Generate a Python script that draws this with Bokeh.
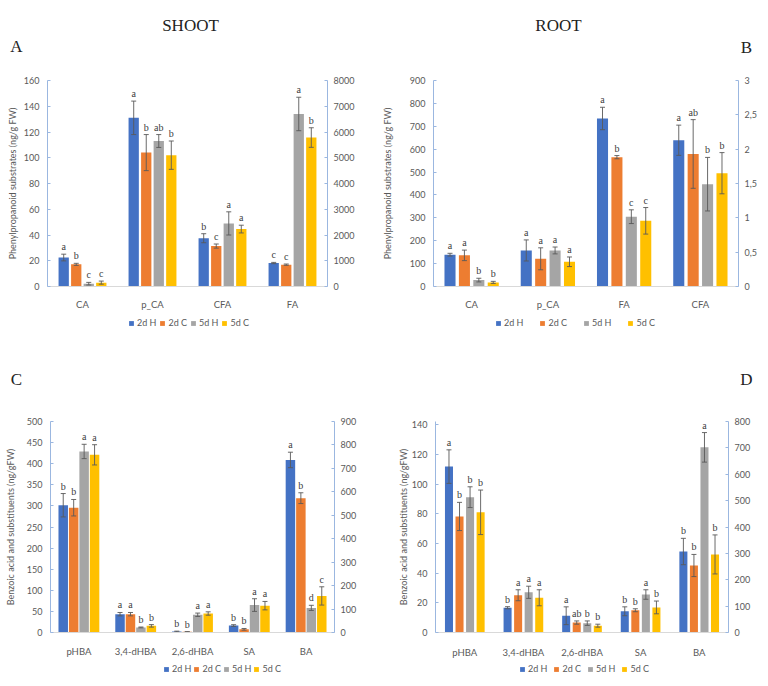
from bokeh.plotting import figure
from bokeh.models import (ColumnDataSource, Range1d, FactorRange, LinearAxis, FixedTicker,
                          LabelSet, Legend, LegendItem, CustomJSTickFormatter)
from bokeh.transform import dodge
from bokeh.layouts import row, column
from bokeh.embed import file_html
from bokeh.resources import INLINE
from bokeh.core.properties import value

SERIES = ["2d H", "2d C", "5d H", "5d C"]
COLORS = ["#4472C4", "#ED7D31", "#A5A5A5", "#FFC000"]

# ---------------- Panel A : SHOOT, phenylpropanoid substrates (FA on secondary axis) -------------
A_CATS = ["CA", "p_CA", "CFA", "FA"]
A_SECONDARY = ["FA"]
A_2dH = [22.5, 131, 37.5, 911]
A_2dC = [17.2, 104, 31.4, 848]
A_5dH = [2.2, 113, 49, 6700]
A_5dC = [3.0, 102, 44.6, 5785]
A_2dH_ERR = [2.6, 13, 3.5, 25]
A_2dC_ERR = [0.8, 14, 1.6, 25]
A_5dH_ERR = [1.0, 5, 9, 650]
A_5dC_ERR = [1.2, 11, 3, 380]
A_2dH_SIG = ["a", "a", "b", "c"]
A_2dC_SIG = ["b", "b", "c", "c"]
A_5dH_SIG = ["c", "ab", "a", "a"]
A_5dC_SIG = ["c", "b", "a", "b"]
A_LEFT_TICKS = [0, 20, 40, 60, 80, 100, 120, 140, 160]
A_RIGHT_TICKS = [0, 1000, 2000, 3000, 4000, 5000, 6000, 7000, 8000]

# ---------------- Panel B : ROOT, phenylpropanoid substrates (CFA on secondary axis) --------------
B_CATS = ["CA", "p_CA", "FA", "CFA"]
B_SECONDARY = ["CFA"]
B_2dH = [139, 157.5, 734, 2.13]
B_2dC = [136, 121, 565, 1.93]
B_5dH = [28, 157.5, 305, 1.49]
B_5dC = [18, 108, 287, 1.65]
B_2dH_ERR = [6, 46, 49, 0.22]
B_2dC_ERR = [23, 48, 7, 0.5]
B_5dH_ERR = [8, 15, 30, 0.39]
B_5dC_ERR = [4.5, 21, 58, 0.3]
B_2dH_SIG = ["a", "a", "a", "a"]
B_2dC_SIG = ["a", "a", "b", "ab"]
B_5dH_SIG = ["b", "a", "c", "b"]
B_5dC_SIG = ["b", "a", "c", "b"]
B_LEFT_TICKS = [0, 100, 200, 300, 400, 500, 600, 700, 800, 900]
B_RIGHT_TICKS = [0, 0.5, 1, 1.5, 2, 2.5, 3]

# ---------------- Panel C : SHOOT, benzoic acid and substituents (BA on secondary axis) ----------
C_CATS = ["pHBA", "3,4-dHBA", "2,6-dHBA", "SA", "BA"]
C_SECONDARY = ["BA"]
C_2dH = [301.6, 43.4, 2.2, 16.5, 736]
C_2dC = [295.7, 43.4, 1.5, 7.5, 573]
C_5dH = [429, 12, 42, 65, 105]
C_5dC = [421, 15.7, 45, 63.6, 156]
C_2dH_ERR = [27.7, 4, 1, 2, 33]
C_2dC_ERR = [19.5, 4, 0.5, 2, 23]
C_5dH_ERR = [17, 1, 4, 15, 11]
C_5dC_ERR = [24, 3, 4, 10, 39]
C_2dH_SIG = ["b", "a", "b", "b", "a"]
C_2dC_SIG = ["b", "a", "b", "b", "b"]
C_5dH_SIG = ["a", "b", "a", "a", "d"]
C_5dC_SIG = ["a", "b", "a", "a", "c"]
C_LEFT_TICKS = [0, 50, 100, 150, 200, 250, 300, 350, 400, 450, 500]
C_RIGHT_TICKS = [0, 100, 200, 300, 400, 500, 600, 700, 800, 900]

# ---------------- Panel D : ROOT, benzoic acid and substituents (BA on secondary axis) -----------
D_CATS = ["pHBA", "3,4-dHBA", "2,6-dHBA", "SA", "BA"]
D_SECONDARY = ["BA"]
D_2dH = [111.8, 16.7, 11.3, 14.3, 307]
D_2dC = [78.2, 25.1, 6.7, 15, 254]
D_5dH = [91.2, 27.1, 6.3, 25.6, 702]
D_5dC = [81, 23.4, 4.6, 16.9, 296]
D_2dH_ERR = [11.3, 0.7, 6, 3, 50]
D_2dC_ERR = [9.5, 3.7, 1.1, 1, 42]
D_5dH_ERR = [7, 4.1, 1.5, 3.2, 56]
D_5dC_ERR = [15, 5.4, 1, 4.3, 74]
D_2dH_SIG = ["a", "b", "a", "b", "b"]
D_2dC_SIG = ["b", "a", "ab", "b", "b"]
D_5dH_SIG = ["b", "a", "b", "a", "a"]
D_5dC_SIG = ["b", "a", "b", "b", "b"]
D_LEFT_TICKS = [0, 20, 40, 60, 80, 100, 120, 140]
D_RIGHT_TICKS = [0, 100, 200, 300, 400, 500, 600, 700, 800]

YLABEL_PHENYL = "Phenylpropanoid substrates (ng/g FW)"
YLABEL_BENZOIC = "Benzoic acid and substituents (ng/gFW)"
HEADINGS = ["SHOOT", "ROOT"]
PANEL_LETTERS = ["A", "B", "C", "D"]

FONT = "Lato"
SERIF = "Liberation Serif"
TXT = "#595959"
AXIS_BLUE = "#9BB7E0"
TOTAL_W = 768


def style_y(ax, standoff):
    ax.axis_line_color = AXIS_BLUE
    ax.major_tick_line_color = AXIS_BLUE
    ax.major_tick_in = 3
    ax.major_tick_out = 0
    ax.minor_tick_line_color = None
    ax.major_label_standoff = standoff
    ax.major_label_text_font = FONT
    ax.major_label_text_font_size = "9px"
    ax.major_label_text_color = TXT


def make_panel(cats, secondary, vals, errs, sigs, left_ticks, right_ticks, left_end, right_end,
               ylabel, size, borders, bar_w, pitch, ylabel_standoff, comma=False, x_standoff=6):
    w, h = size
    bl, br, bt, bb = borders
    fw = w - bl - br
    p = figure(x_range=FactorRange(factors=cats), y_range=Range1d(0, left_end),
               width=w, height=h, min_border_left=bl, min_border_right=br,
               min_border_top=bt, min_border_bottom=bb, output_backend="svg",
               toolbar_location=None, title=None)
    p.extra_y_ranges = {"right": Range1d(0, right_end)}
    p.outline_line_color = None
    p.xgrid.grid_line_color = None
    p.ygrid.grid_line_color = None

    ya = p.yaxis[0]
    ya.ticker = FixedTicker(ticks=left_ticks)
    style_y(ya, 8)
    ya.axis_label = ylabel
    ya.axis_label_standoff = ylabel_standoff
    ya.axis_label_text_font = FONT
    ya.axis_label_text_font_size = "9px"
    ya.axis_label_text_font_style = "normal"
    ya.axis_label_text_color = TXT

    ra = LinearAxis(y_range_name="right", ticker=FixedTicker(ticks=right_ticks))
    if comma:
        ra.formatter = CustomJSTickFormatter(code="return tick.toString().replace('.', ',')")
    style_y(ra, 6)
    p.add_layout(ra, "right")

    xa = p.xaxis[0]
    xa.axis_line_color = "#D9D9D9"
    xa.major_tick_line_color = None
    xa.minor_tick_line_color = None
    xa.major_label_standoff = x_standoff
    xa.major_label_text_font = FONT
    xa.major_label_text_font_size = "9.5px"
    xa.major_label_text_color = TXT

    ncat = len(cats)
    cap = 2.5 / (fw / ncat)
    for s in range(4):
        off = (s - 1.5) * pitch
        for rn in ("default", "right"):
            idx = [i for i, c in enumerate(cats) if (c in secondary) == (rn == "right")]
            if not idx:
                continue
            src = ColumnDataSource(dict(
                cat=[cats[i] for i in idx],
                top=[vals[s][i] for i in idx],
                lo=[vals[s][i] - errs[s][i] for i in idx],
                hi=[vals[s][i] + errs[s][i] for i in idx],
                sig=[sigs[s][i] for i in idx]))
            p.vbar(x=dodge("cat", off, range=p.x_range), top="top", width=bar_w,
                   source=src, fill_color=COLORS[s], line_color=None, y_range_name=rn)
            p.segment(x0=dodge("cat", off, range=p.x_range), y0="lo",
                      x1=dodge("cat", off, range=p.x_range), y1="hi",
                      source=src, line_color="#595959", line_width=0.9, y_range_name=rn)
            for yy in ("lo", "hi"):
                p.segment(x0=dodge("cat", off - cap, range=p.x_range), y0=yy,
                          x1=dodge("cat", off + cap, range=p.x_range), y1=yy,
                          source=src, line_color="#595959", line_width=0.9, y_range_name=rn)
            ls = LabelSet(x=dodge("cat", off, range=p.x_range), y="hi", text="sig", source=src,
                          y_range_name=rn, text_align="center", text_baseline="alphabetic",
                          y_offset=4, text_font=FONT, text_font_size="10px",
                          text_color="#404040")
            p.add_layout(ls)
    return p


def strip(height):
    s = figure(width=TOTAL_W, height=height, x_range=Range1d(0, TOTAL_W),
               y_range=Range1d(0, height), min_border=0, output_backend="svg",
               toolbar_location=None, title=None, x_axis_location=None, y_axis_location=None)
    s.outline_line_color = None
    s.xgrid.grid_line_color = None
    s.ygrid.grid_line_color = None
    return s


def add_texts(s, xs, ys, texts):
    src = ColumnDataSource(dict(x=xs, y=ys, t=texts))
    s.text(x="x", y="y", text="t", source=src, text_align="center", text_baseline="middle",
           text_font=value(SERIF), text_font_size="17px", text_color="#222222")


def add_legend(s, loc, spacing):
    items = []
    for name, col in zip(SERIES, COLORS):
        # legend proxy: a renderer kept outside the visible strip, only its swatch is shown
        r = s.vbar(x=[-50], bottom=[-40], top=[-30], width=1, fill_color=col, line_color=None)
        items.append(LegendItem(label=name, renderers=[r]))
    leg = Legend(items=items, location=loc, orientation="horizontal",
                 glyph_width=6, glyph_height=6, label_standoff=3, label_height=10,
                 label_width=0, spacing=spacing, padding=0, margin=0,
                 border_line_color=None, background_fill_alpha=0,
                 label_text_font=FONT, label_text_font_size="9px", label_text_color=TXT)
    s.add_layout(leg)


# header: SHOOT / ROOT / A / B
head = strip(58)
add_texts(head, [190, 558, 16, 746], [33, 33, 12, 11],
          [HEADINGS[0], HEADINGS[1], PANEL_LETTERS[0], PANEL_LETTERS[1]])

pA = make_panel(A_CATS, A_SECONDARY, [A_2dH, A_2dC, A_5dH, A_5dC],
                [A_2dH_ERR, A_2dC_ERR, A_5dH_ERR, A_5dC_ERR],
                [A_2dH_SIG, A_2dC_SIG, A_5dH_SIG, A_5dC_SIG],
                A_LEFT_TICKS, A_RIGHT_TICKS, 160, 8000, YLABEL_PHENYL,
                (370, 254), (47, 43, 22, 21), 0.147, 0.179, 3)

pB = make_panel(B_CATS, B_SECONDARY, [B_2dH, B_2dC, B_5dH, B_5dC],
                [B_2dH_ERR, B_2dC_ERR, B_5dH_ERR, B_5dC_ERR],
                [B_2dH_SIG, B_2dC_SIG, B_5dH_SIG, B_5dC_SIG],
                B_LEFT_TICKS, B_RIGHT_TICKS, 900, 3, YLABEL_PHENYL,
                (398, 254), (63, 30, 19, 22), 0.145, 0.189, 14, comma=True)

# middle strip: legends of A and B, letters C and D
mid = strip(88)
add_legend(mid, (128, 72), 3)
add_legend(mid, (495, 72), 16)
add_texts(mid, [16, 746], [21, 21], [PANEL_LETTERS[2], PANEL_LETTERS[3]])

pC = make_panel(C_CATS, C_SECONDARY, [C_2dH, C_2dC, C_5dH, C_5dC],
                [C_2dH_ERR, C_2dC_ERR, C_5dH_ERR, C_5dC_ERR],
                [C_2dH_SIG, C_2dC_SIG, C_5dH_SIG, C_5dC_SIG],
                C_LEFT_TICKS, C_RIGHT_TICKS, 500, 900, YLABEL_BENZOIC,
                (370, 260), (50, 36, 15, 22), 0.167, 0.184, 8, x_standoff=7)

pD = make_panel(D_CATS, D_SECONDARY, [D_2dH, D_2dC, D_5dH, D_5dC],
                [D_2dH_ERR, D_2dC_ERR, D_5dH_ERR, D_5dC_ERR],
                [D_2dH_SIG, D_2dC_SIG, D_5dH_SIG, D_5dC_SIG],
                D_LEFT_TICKS, D_RIGHT_TICKS, 142.2, 800, YLABEL_BENZOIC,
                (398, 260), (65, 40, 21, 21), 0.137, 0.18, 0, x_standoff=8)

# bottom strip: legends of C and D
bot = strip(26)
add_legend(bot, (163, 12), 2)
add_legend(bot, (519, 12), 6)

layout = column(head, row(pA, pB), mid, row(pC, pD), bot)

with open("out.html", "w") as f:
    f.write(file_html(layout, INLINE))
